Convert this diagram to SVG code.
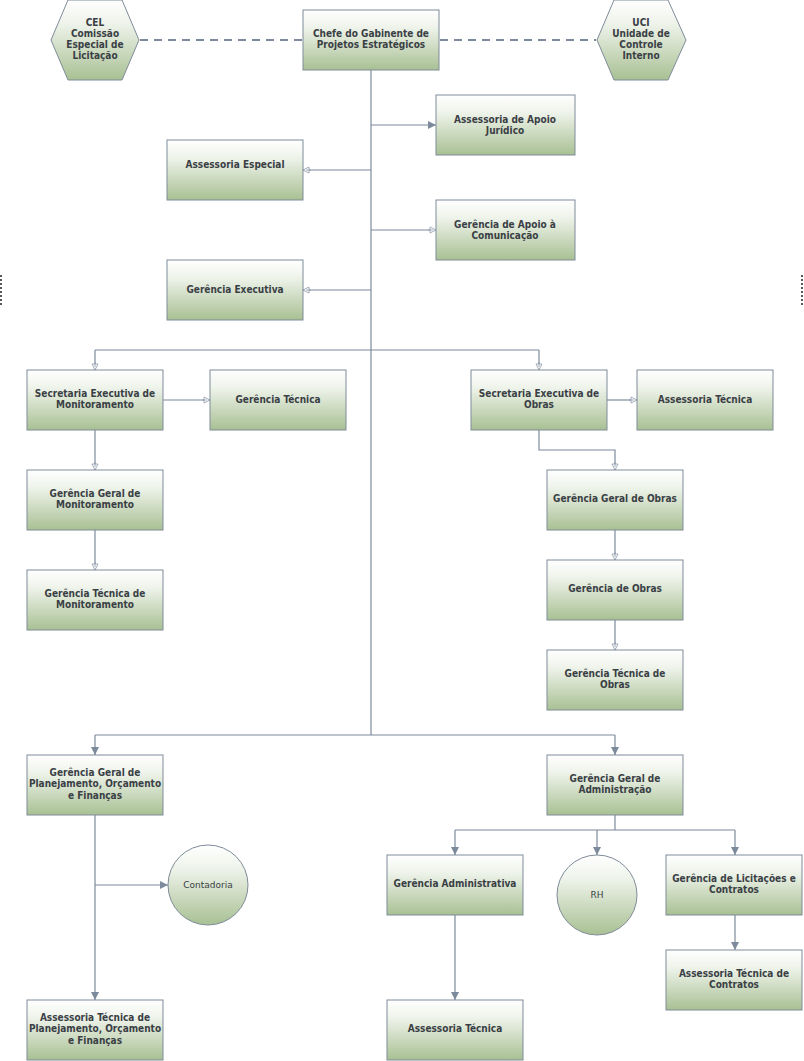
<svg xmlns="http://www.w3.org/2000/svg" width="804" height="1061" viewBox="0 0 804 1061">
<style>
.box{fill:url(#g);stroke:#7f8b99;stroke-width:1}
.t{font-family:"DejaVu Sans",Verdana,sans-serif;font-weight:bold;font-size:10px;fill:#3a3f45;text-anchor:middle;font-stretch:condensed}
.r{font-family:"DejaVu Sans",Verdana,sans-serif;font-size:9px;fill:#3a3f45;text-anchor:middle}
.c{fill:none;stroke:#7d8a9c;stroke-width:1.2}
.cf{fill:none;stroke:#7d8a9c;stroke-width:1.2;marker-end:url(#af)}
.co{fill:none;stroke:#7d8a9c;stroke-width:1.2;marker-end:url(#ao)}
.d{fill:none;stroke:#7d8a9c;stroke-width:2;stroke-dasharray:8,6}
</style>
<defs>
<linearGradient id="g" x1="0" y1="0" x2="0" y2="1">
<stop offset="0" stop-color="#ffffff"/>
<stop offset="0.3" stop-color="#eef3ea"/>
<stop offset="1" stop-color="#a8c093"/>
</linearGradient>
<marker id="af" markerUnits="userSpaceOnUse" markerWidth="10" markerHeight="10" refX="9" refY="5" orient="auto">
<path d="M1,1 L9,5 L1,9 z" fill="#7d8a9c"/>
</marker>
<marker id="ao" markerUnits="userSpaceOnUse" markerWidth="10" markerHeight="10" refX="9" refY="5" orient="auto">
<path d="M3,2 L9,5 L3,8 z" fill="#ffffff" stroke="#8d9aab" stroke-width="0.8"/>
<path d="M1,5 L6,5" stroke="#8d9aab" stroke-width="0.8"/>
</marker>
</defs>
<rect width="804" height="1061" fill="#ffffff"/>
<g id="edges">
<line x1="1" y1="275" x2="1" y2="305" stroke="#222" stroke-width="1.5" stroke-dasharray="2,2"/>
<line x1="802" y1="275" x2="802" y2="305" stroke="#222" stroke-width="1.5" stroke-dasharray="2,2"/>
</g>
<g id="connectors">
<line class="d" x1="140" y1="40" x2="302" y2="40"/>
<line class="d" x1="440" y1="40" x2="596" y2="40"/>
<line class="c" x1="371" y1="70" x2="371" y2="735"/>
<line class="cf" x1="371" y1="125" x2="436" y2="125"/>
<line class="co" x1="371" y1="170" x2="303" y2="170"/>
<line class="co" x1="371" y1="230" x2="436" y2="230"/>
<line class="co" x1="371" y1="290" x2="303" y2="290"/>
<line class="c" x1="95" y1="350" x2="539" y2="350"/>
<line class="co" x1="95" y1="350" x2="95" y2="370"/>
<line class="co" x1="539" y1="350" x2="539" y2="370"/>
<line class="co" x1="163" y1="400" x2="210" y2="400"/>
<line class="co" x1="607" y1="400" x2="637" y2="400"/>
<polyline class="co" points="539,430 539,450 615,450 615,470"/>
<line class="co" x1="615" y1="530" x2="615" y2="560"/>
<line class="co" x1="615" y1="620" x2="615" y2="650"/>
<line class="co" x1="95" y1="430" x2="95" y2="470"/>
<line class="co" x1="95" y1="530" x2="95" y2="570"/>
<line class="c" x1="95" y1="735" x2="615" y2="735"/>
<line class="cf" x1="95" y1="735" x2="95" y2="755"/>
<line class="cf" x1="615" y1="735" x2="615" y2="755"/>
<line class="cf" x1="95" y1="815" x2="95" y2="1000"/>
<line class="cf" x1="95" y1="885" x2="168" y2="885"/>
<line class="c" x1="615" y1="815" x2="615" y2="830"/>
<line class="c" x1="455" y1="830" x2="735" y2="830"/>
<line class="cf" x1="455" y1="830" x2="455" y2="855"/>
<line class="cf" x1="597" y1="830" x2="597" y2="855"/>
<line class="cf" x1="735" y1="830" x2="735" y2="855"/>
<line class="cf" x1="455" y1="915" x2="455" y2="1000"/>
<line class="cf" x1="735" y1="915" x2="735" y2="950"/>
</g>
<g id="cel"><polygon class="box" points="51,40 68,0 122,0 139,40 122,80 68,80"/>
<text class="t" x="95" y="26">CEL</text><text class="t" x="95" y="37">Comissão</text><text class="t" x="95" y="48">Especial de</text><text class="t" x="95" y="59">Licitação</text></g>
<g id="uci"><polygon class="box" points="597,40 614,0 668,0 686,40 668,80 614,80"/>
<text class="t" x="641" y="26">UCI</text><text class="t" x="641" y="37">Unidade de</text><text class="t" x="641" y="48">Controle</text><text class="t" x="641" y="59">Interno</text></g>
<g id="chefe"><rect class="box" x="303" y="10" width="136" height="60"/>
<text class="t" x="371" y="37">Chefe do Gabinente de</text><text class="t" x="371" y="48">Projetos Estratégicos</text></g>
<g id="juridico"><rect class="box" x="436" y="95" width="139" height="60"/>
<text class="t" x="505" y="123">Assessoria de Apoio</text><text class="t" x="505" y="134">Jurídico</text></g>
<g id="especial"><rect class="box" x="167" y="140" width="136" height="60"/>
<text class="t" x="235" y="168">Assessoria Especial</text></g>
<g id="comunicacao"><rect class="box" x="436" y="200" width="139" height="60"/>
<text class="t" x="505" y="228">Gerência de Apoio à</text><text class="t" x="505" y="239">Comunicação</text></g>
<g id="executiva"><rect class="box" x="167" y="260" width="136" height="60"/>
<text class="t" x="235" y="293">Gerência Executiva</text></g>
<g id="sec-mon"><rect class="box" x="27" y="370" width="136" height="60"/>
<text class="t" x="95" y="397">Secretaria Executiva de</text><text class="t" x="95" y="408">Monitoramento</text></g>
<g id="ger-tec"><rect class="box" x="210" y="370" width="136" height="60"/>
<text class="t" x="278" y="403">Gerência Técnica</text></g>
<g id="sec-obras"><rect class="box" x="471" y="370" width="136" height="60"/>
<text class="t" x="539" y="397">Secretaria Executiva de</text><text class="t" x="539" y="408">Obras</text></g>
<g id="ass-tec"><rect class="box" x="637" y="370" width="136" height="60"/>
<text class="t" x="705" y="403">Assessoria Técnica</text></g>
<g id="gg-mon"><rect class="box" x="27" y="470" width="136" height="60"/>
<text class="t" x="95" y="497">Gerência Geral de</text><text class="t" x="95" y="508">Monitoramento</text></g>
<g id="gt-mon"><rect class="box" x="27" y="570" width="136" height="60"/>
<text class="t" x="95" y="597">Gerência Técnica de</text><text class="t" x="95" y="608">Monitoramento</text></g>
<g id="gg-obras"><rect class="box" x="547" y="470" width="136" height="60"/>
<text class="t" x="615" y="502">Gerência Geral de Obras</text></g>
<g id="g-obras"><rect class="box" x="547" y="560" width="136" height="60"/>
<text class="t" x="615" y="592">Gerência de Obras</text></g>
<g id="gt-obras"><rect class="box" x="547" y="650" width="136" height="60"/>
<text class="t" x="615" y="677">Gerência Técnica de</text><text class="t" x="615" y="688">Obras</text></g>
<g id="gg-plan"><rect class="box" x="27" y="755" width="136" height="60"/>
<text class="t" x="95" y="776">Gerência Geral de</text><text class="t" x="95" y="787">Planejamento, Orçamento</text><text class="t" x="95" y="799">e Finanças</text></g>
<g id="gg-adm"><rect class="box" x="547" y="755" width="136" height="60"/>
<text class="t" x="615" y="782">Gerência Geral de</text><text class="t" x="615" y="793">Administração</text></g>
<g id="contadoria"><circle class="box" cx="208" cy="885" r="40"/>
<text class="r" x="208" y="888">Contadoria</text></g>
<g id="ger-adm"><rect class="box" x="387" y="855" width="136" height="60"/>
<text class="t" x="455" y="887">Gerência Administrativa</text></g>
<g id="rh"><circle class="box" cx="597" cy="895" r="40"/>
<text class="r" x="597" y="898">RH</text></g>
<g id="ger-lic"><rect class="box" x="666" y="855" width="136" height="60"/>
<text class="t" x="734" y="882">Gerência de Licitações e</text><text class="t" x="734" y="893">Contratos</text></g>
<g id="at-contratos"><rect class="box" x="666" y="950" width="136" height="60"/>
<text class="t" x="734" y="977">Assessoria Técnica de</text><text class="t" x="734" y="988">Contratos</text></g>
<g id="at-plan"><rect class="box" x="27" y="1000" width="136" height="60"/>
<text class="t" x="95" y="1021">Assessoria Técnica de</text><text class="t" x="95" y="1032">Planejamento, Orçamento</text><text class="t" x="95" y="1044">e Finanças</text></g>
<g id="at-adm"><rect class="box" x="387" y="1000" width="136" height="60"/>
<text class="t" x="455" y="1032">Assessoria Técnica</text></g>
</svg>
